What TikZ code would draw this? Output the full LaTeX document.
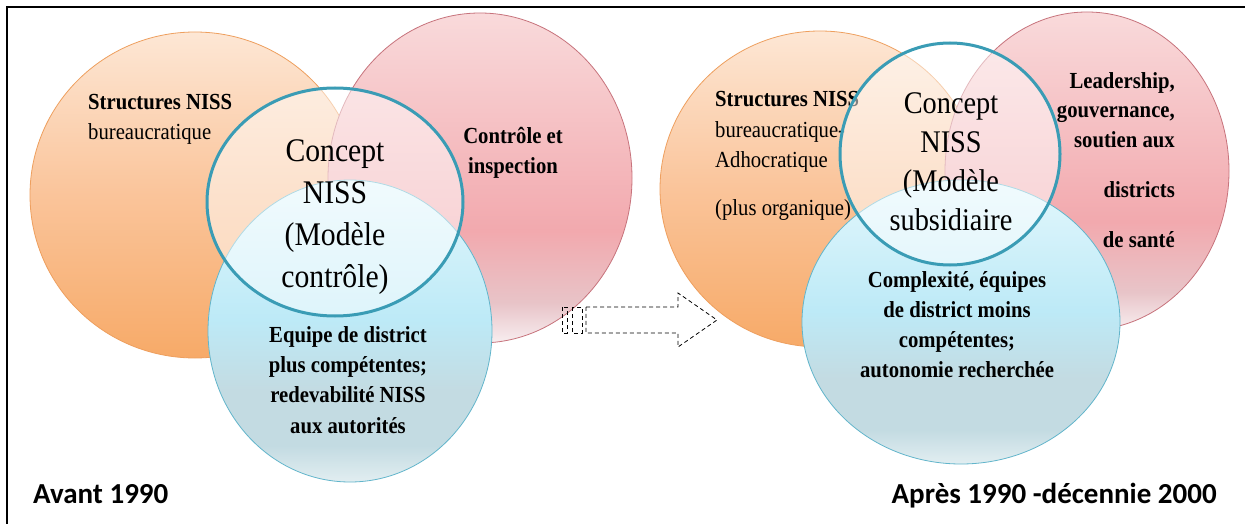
\documentclass[tikz,border=0pt]{standalone}
\usepackage{fontspec}
\setmainfont{Liberation Serif}[FakeStretch=0.9]
\newfontfamily\labfont{Carlito}
\definecolor{orT}{HTML}{FDE7D5}
\definecolor{orM}{HTML}{FAC49A}
\definecolor{orB}{HTML}{F7AA68}
\definecolor{orD}{HTML}{EE9F5E}
\definecolor{pkT}{HTML}{F9DADB}
\definecolor{pkM}{HTML}{F2A9AE}
\definecolor{pkC}{HTML}{E8C4C8}
\definecolor{pkB}{HTML}{F8EEF0}
\definecolor{pkD}{HTML}{C7737C}
\definecolor{blT}{HTML}{E3F7FC}
\definecolor{blM}{HTML}{BDEAF7}
\definecolor{blC}{HTML}{C3DBE2}
\definecolor{blB}{HTML}{E2EEF1}
\definecolor{blD}{HTML}{62B5CB}
\definecolor{tealD}{HTML}{3A9CB5}
\pgfdeclareverticalshading{orshade}{100bp}{color(0bp)=(orB); color(25bp)=(orB); color(50bp)=(orM); color(75bp)=(orT); color(100bp)=(orT)}
\pgfdeclareverticalshading{pkshade}{100bp}{color(0bp)=(pkB); color(25bp)=(pkB); color(31bp)=(pkC); color(42bp)=(pkM); color(75bp)=(pkT); color(100bp)=(pkT)}
\pgfdeclareverticalshading{blshade}{100bp}{color(0bp)=(blB); color(25bp)=(blB); color(31bp)=(blC); color(40bp)=(blC); color(52bp)=(blM); color(75bp)=(blT); color(100bp)=(blT)}
\tikzset{
  orangeset/.style={shading=orshade, draw=orD, line width=0.8pt},
  pinkset/.style={shading=pkshade, draw=pkD, line width=0.8pt},
  blueset/.style={shading=blshade, draw=blD, line width=0.8pt},
  tealset/.style={draw=tealD, line width=3pt, fill=white, fill opacity=0.5},
  smalltxt/.style={font=\fontsize{23}{30.3}\selectfont\bfseries, inner sep=0pt, align=center},
  bigtxt/.style={font=\fontsize{33}{41.7}\selectfont, inner sep=0pt, align=center},
  labtxt/.style={font=\labfont\bfseries\fontsize{29}{34}\selectfont, inner sep=0pt},
  arrowline/.style={draw=black, line width=0.8pt, dash pattern=on 4pt off 3pt}
}
\begin{document}
\begin{tikzpicture}[x=1pt, y=-1pt]
\useasboundingbox (0,0) rectangle (1245,524);
\fill[white] (0,0) rectangle (1245,524);
\draw[line width=2.5pt] (1245,7) -- (7,7) -- (7,524);

% ---------- left diagram ----------
\shade[orangeset] (195,195) ellipse [x radius=165, y radius=163];
\shade[pinkset] (480,178) ellipse [x radius=152, y radius=165];
\node[smalltxt, align=left, anchor=base west] (lorange) at (88,140) {Structures NISS\\{\mdseries bureaucratique}};
\node[smalltxt, font=\fontsize{23}{31}\selectfont\bfseries, anchor=base] (lpink) at (513,174) {Contrôle et\\inspection};
\shade[blueset] (350,331) ellipse [x radius=142, y radius=151];
\path[tealset] (335,202) ellipse [x radius=128, y radius=114];
\node[bigtxt, anchor=base] (lcenter) at (335,287) {Concept\\NISS\\(Modèle\\contrôle)};
\node[smalltxt, anchor=base] (lblue) at (348,433) {Equipe de district\\plus compétentes;\\redevabilité\hspace{5pt}NISS\\aux autorités};

% ---------- arrow ----------
\draw[arrowline] (562,307) rectangle (567,333);
\draw[arrowline] (572,307) rectangle (582,333);
\draw[arrowline] (586,307) -- (678,307) -- (678,293) -- (717,320) -- (678,347) -- (678,333) -- (586,333) -- cycle;

% ---------- right diagram ----------
\shade[orangeset] (820,189) ellipse [x radius=160, y radius=158];
\shade[pinkset] (1087,171) ellipse [x radius=142, y radius=159];
\node[smalltxt, align=left, anchor=base west, font=\fontsize{23}{30.5}\selectfont\mdseries] (rorange) at (715,215) {{\bfseries Structures NISS}\\bureaucratique-\\Adhocratique\\[17pt](plus organique)};
\node[smalltxt, align=right, anchor=base east, font=\fontsize{23}{29.7}\selectfont\bfseries] (rpink) at (1175,247) {Leadership,\\gouvernance,\\soutien aux\\[20pt]districts\\[20pt]de santé};
\shade[blueset] (961,322) ellipse [x radius=159, y radius=142];
\path[tealset] (950,154) ellipse [x radius=110, y radius=111];
\node[bigtxt, font=\fontsize{31.5}{39}\selectfont, anchor=base] (rcenter) at (951,230) {Concept\\NISS\\(Modèle\\subsidiaire};
\node[smalltxt, font=\fontsize{23}{29.7}\selectfont\bfseries, anchor=base] (rblue) at (957,377) {Complexité, équipes\\de district moins\\compétentes;\\autonomie\hspace{5pt}recherchée};

% ---------- labels ----------
\node[labtxt, anchor=base west] (avant) at (33,503) {Avant 1990};
\node[labtxt, anchor=base east] (apres) at (1217,503) {Après 1990 -décennie 2000};
\end{tikzpicture}
\end{document}
